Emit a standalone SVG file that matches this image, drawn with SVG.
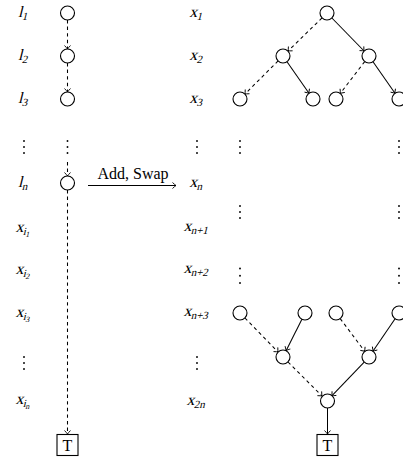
<svg xmlns="http://www.w3.org/2000/svg" width="403" height="461" viewBox="0 0 403 461">
<style>
.n{fill:#fff;stroke:#000;stroke-width:1.1}
.e{fill:none;stroke:#000;stroke-width:1.05;marker-end:url(#tip)}
.d{stroke-dasharray:3.4,3.2}
.m{font-family:"Liberation Serif",serif;font-size:16px;fill:#000;text-anchor:middle}
.s{font-size:11px}
.ss{font-size:8px}
.t{font-family:"Liberation Serif",serif;font-size:16px;fill:#000;text-anchor:middle}
.dot{fill:#000}
</style>
<defs>
<marker id="tip" viewBox="-5 -4 6 8" refX="0" refY="0" markerWidth="6" markerHeight="8" markerUnits="userSpaceOnUse" orient="auto">
<path d="M-3.5,-3 Q-1,-0.6 0,0 Q-1,0.6 -3.5,3" fill="none" stroke="#000" stroke-width="0.9" stroke-dasharray="none"/>
</marker>
<g id="vd"><circle cx="0" cy="0" r="0.95"/><circle cx="0" cy="6" r="0.95"/><circle cx="0" cy="12" r="0.95"/></g>
</defs>
<rect width="403" height="461" fill="#fff"/>

<g id="labels-left">
<g transform="translate(23,17) skewX(-14)"><text class="m">l<tspan class="s" dy="3">1</tspan></text></g>
<g transform="translate(23,60) skewX(-14)"><text class="m">l<tspan class="s" dy="3">2</tspan></text></g>
<g transform="translate(23,103) skewX(-14)"><text class="m">l<tspan class="s" dy="3">3</tspan></text></g>
<g transform="translate(23,187) skewX(-14)"><text class="m">l<tspan class="s" dy="3">n</tspan></text></g>
<g transform="translate(23,232) skewX(-14)"><text class="m">x<tspan class="s" dy="3">i</tspan><tspan class="ss" dy="2">1</tspan></text></g>
<g transform="translate(23,274) skewX(-14)"><text class="m">x<tspan class="s" dy="3">i</tspan><tspan class="ss" dy="2">2</tspan></text></g>
<g transform="translate(23,317) skewX(-14)"><text class="m">x<tspan class="s" dy="3">i</tspan><tspan class="ss" dy="2">3</tspan></text></g>
<g transform="translate(23,404) skewX(-14)"><text class="m">x<tspan class="s" dy="3">i</tspan><tspan class="ss" dy="2">n</tspan></text></g>
<use href="#vd" x="24" y="141" class="dot"/>
<use href="#vd" x="24" y="357" class="dot"/>
</g>

<g id="labels-right">
<g transform="translate(196,17) skewX(-14)"><text class="m">x<tspan class="s" dy="3">1</tspan></text></g>
<g transform="translate(196,60) skewX(-14)"><text class="m">x<tspan class="s" dy="3">2</tspan></text></g>
<g transform="translate(196,103) skewX(-14)"><text class="m">x<tspan class="s" dy="3">3</tspan></text></g>
<g transform="translate(196,187) skewX(-14)"><text class="m">x<tspan class="s" dy="3">n</tspan></text></g>
<g transform="translate(196,231) skewX(-14)"><text class="m">x<tspan class="s" dy="3">n+1</tspan></text></g>
<g transform="translate(196,273) skewX(-14)"><text class="m">x<tspan class="s" dy="3">n+2</tspan></text></g>
<g transform="translate(196,316) skewX(-14)"><text class="m">x<tspan class="s" dy="3">n+3</tspan></text></g>
<g transform="translate(196,405) skewX(-14)"><text class="m">x<tspan class="s" dy="3">2n</tspan></text></g>
<use href="#vd" x="197" y="141" class="dot"/>
<use href="#vd" x="197" y="357" class="dot"/>
</g>

<g id="dots-tree">
<use href="#vd" x="67.5" y="141" class="dot"/>
<use href="#vd" x="240" y="141" class="dot"/>
<use href="#vd" x="399" y="141" class="dot"/>
<use href="#vd" x="240" y="206" class="dot"/>
<use href="#vd" x="399" y="206" class="dot"/>
<g class="dot"><circle cx="240" cy="268.5" r="0.95"/><circle cx="240" cy="275.7" r="0.95"/><circle cx="240" cy="283" r="0.95"/>
<circle cx="399" cy="268.5" r="0.95"/><circle cx="399" cy="275.7" r="0.95"/><circle cx="399" cy="283" r="0.95"/></g>
</g>

<g id="connectors">
<path class="e d" d="M67.5,20 L67.5,49"/>
<path class="e d" d="M67.5,63 L67.5,92"/>
<path class="e d" d="M67.5,162 L67.5,176"/>
<path class="e d" d="M67.5,190 L67.5,434"/>
<path class="e" d="M88,185.5 L176,185.5"/>
<path class="e d" d="M322,17.9 L288,51.1"/>
<path class="e" d="M331.9,18 L364.1,51"/>
<path class="e d" d="M278.1,60.9 L244.9,94.1"/>
<path class="e" d="M287,61.7 L309,93.3"/>
<path class="e d" d="M364.7,61.6 L340.3,93.4"/>
<path class="e" d="M373,61.7 L395,93.3"/>
<path class="e d" d="M244.9,318 L278.1,352"/>
<path class="e" d="M301.9,319.3 L286.1,350.7"/>
<path class="e d" d="M340.2,318.6 L364.8,351.4"/>
<path class="e" d="M395.1,318.8 L372.9,351.2"/>
<path class="e d" d="M288,362 L322,396"/>
<path class="e" d="M364.2,362.1 L331.8,395.9"/>
<path class="e" d="M327.5,408 L327.5,434"/>
</g>
<text class="t" x="133" y="179">Add, Swap</text>

<g id="l1"><circle class="n" cx="67.5" cy="13" r="7"/></g>
<g id="l2"><circle class="n" cx="67.5" cy="56" r="7"/></g>
<g id="l3"><circle class="n" cx="67.5" cy="99" r="7"/></g>
<g id="ln"><circle class="n" cx="67.5" cy="183" r="7"/></g>
<g id="T1"><rect class="n" x="57" y="434.5" width="21" height="21"/><text class="t" x="67.5" y="451">T</text></g>

<g id="a0"><circle class="n" cx="327" cy="13" r="7"/></g>
<g id="a1"><circle class="n" cx="283" cy="56" r="7"/></g>
<g id="a2"><circle class="n" cx="369" cy="56" r="7"/></g>
<g id="a3"><circle class="n" cx="240" cy="99" r="7"/></g>
<g id="a4"><circle class="n" cx="313" cy="99" r="7"/></g>
<g id="a5"><circle class="n" cx="336" cy="99" r="7"/></g>
<g id="a6"><circle class="n" cx="399" cy="99" r="7"/></g>

<g id="b0"><circle class="n" cx="240" cy="313" r="7"/></g>
<g id="b1"><circle class="n" cx="305" cy="313" r="7"/></g>
<g id="b2"><circle class="n" cx="336" cy="313" r="7"/></g>
<g id="b3"><circle class="n" cx="399" cy="313" r="7"/></g>
<g id="b4"><circle class="n" cx="283" cy="357" r="7"/></g>
<g id="b5"><circle class="n" cx="369" cy="357" r="7"/></g>
<g id="b6"><circle class="n" cx="327.5" cy="401" r="7"/></g>
<g id="T2"><rect class="n" x="317" y="434.5" width="21" height="21"/><text class="t" x="327.5" y="451">T</text></g>
</svg>
